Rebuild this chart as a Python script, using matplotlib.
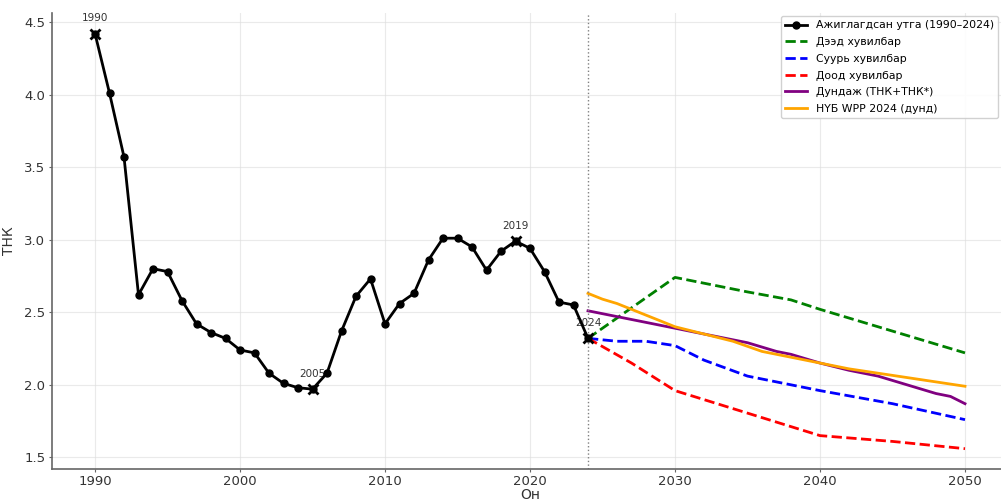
import numpy as np
import matplotlib
matplotlib.use('Agg')
import matplotlib.pyplot as plt

# ажиглагдсан ТНК (1990-2024)
obs_years = list(range(1990, 2025))
obs_tfr = [4.42, 4.01, 3.57, 2.62, 2.80, 2.78, 2.58, 2.42, 2.36, 2.32,
           2.24, 2.22, 2.08, 2.01, 1.98, 1.97, 2.08, 2.37, 2.61, 2.73,
           2.42, 2.56, 2.63, 2.86, 3.01, 3.01, 2.95, 2.79, 2.92, 2.99,
           2.94, 2.78, 2.57, 2.55, 2.32]
mark_years = [1990, 2005, 2019, 2024]

# хувилбарууд
high_years = [2024, 2030, 2035, 2038, 2040, 2045, 2050]
high_tfr = [2.32, 2.74, 2.64, 2.585, 2.52, 2.37, 2.22]

base_years = [2024, 2026, 2028, 2030, 2032, 2035, 2040, 2045, 2050]
base_tfr = [2.32, 2.30, 2.30, 2.27, 2.17, 2.06, 1.96, 1.87, 1.76]

low_years = [2024, 2027, 2030, 2035, 2040, 2045, 2050]
low_tfr = [2.32, 2.15, 1.96, 1.805, 1.65, 1.61, 1.56]

mean_years = [2024, 2026, 2028, 2030, 2032, 2034, 2035, 2036, 2037, 2038,
              2040, 2042, 2044, 2046, 2048, 2049, 2050]
mean_tfr = [2.51, 2.47, 2.43, 2.39, 2.35, 2.31, 2.29, 2.26, 2.23, 2.21,
            2.15, 2.10, 2.06, 2.00, 1.94, 1.92, 1.87]

wpp_years = [2024, 2025, 2026, 2027, 2028, 2029, 2030, 2032, 2034, 2036,
             2038, 2040, 2042, 2044, 2046, 2048, 2050]
wpp_tfr = [2.63, 2.59, 2.56, 2.52, 2.48, 2.44, 2.40, 2.35, 2.30, 2.23,
           2.19, 2.15, 2.11, 2.08, 2.05, 2.02, 1.99]

plt.rcParams['font.family'] = ['DejaVu Sans']

fig = plt.figure(figsize=(10.01, 5.01), dpi=100)
ax = fig.add_axes([51.5 / 1001, 32 / 501, 957 / 1001, 456.5 / 501])

ax.plot(obs_years, obs_tfr, color='black', marker='o', markersize=5,
        linewidth=2, label='Ажиглагдсан утга (1990–2024)', zorder=5)
ax.plot(high_years, high_tfr, color='green', linestyle='--', linewidth=2, label='Дээд хувилбар')
ax.plot(base_years, base_tfr, color='blue', linestyle='--', linewidth=2, label='Суурь хувилбар')
ax.plot(low_years, low_tfr, color='red', linestyle='--', linewidth=2, label='Доод хувилбар')
ax.plot(mean_years, mean_tfr, color='purple', linewidth=2, label='Дундаж (ТНК+ТНК*)')
ax.plot(wpp_years, wpp_tfr, color='orange', linewidth=2, label='НҮБ WPP 2024 (дунд)')

# тэмдэглэсэн онууд
for yr in mark_years:
    v = obs_tfr[obs_years.index(yr)]
    ax.plot(yr, v, marker='x', color='black', markersize=7, markeredgewidth=2, zorder=6)
    ax.annotate(str(yr), (yr, v), xytext=(0, 9), textcoords='offset points',
                ha='center', fontsize=7.5, color='#333333')

ax.axvline(2024, color='gray', linestyle=':', linewidth=1)

ax.set_xlim(1987, 2053)
ax.set_ylim(1.42, 4.565)
ax.set_xticks([1990, 2000, 2010, 2020, 2030, 2040, 2050])
ax.set_yticks([1.5, 2.0, 2.5, 3.0, 3.5, 4.0, 4.5])
ax.set_xlabel('Он', fontsize=10, color='#333333', labelpad=0)
ax.set_ylabel('ТНК', fontsize=10, color='#333333', labelpad=6)
ax.tick_params(labelsize=9.5, colors='#666666', labelcolor='#333333', length=2.5, pad=2)
ax.grid(True, color='#dddddd', linewidth=0.8, alpha=0.6)
for s in ['top', 'right']:
    ax.spines[s].set_visible(False)
for s in ['left', 'bottom']:
    ax.spines[s].set_color('#666666')
    ax.spines[s].set_linewidth(1.2)

ax.legend(loc='upper right', bbox_to_anchor=(998 / 1001, 485 / 501),
          bbox_transform=fig.transFigure, fontsize=7.8, labelspacing=0.62,
          borderaxespad=0, framealpha=0.9, edgecolor='#cccccc')

plt.savefig('out.png', dpi=100)
